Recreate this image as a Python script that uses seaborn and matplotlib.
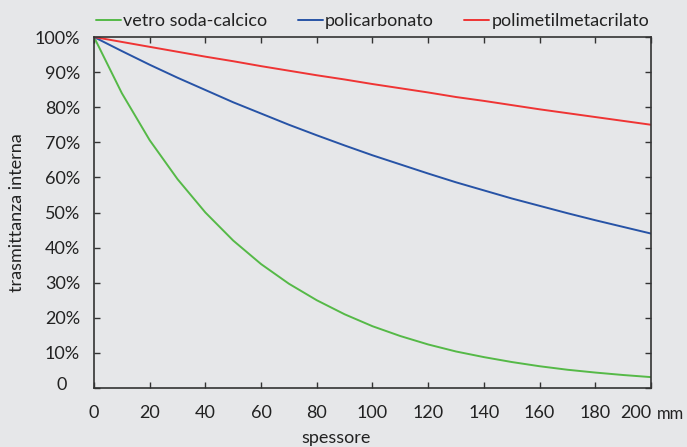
import numpy as np
import pandas as pd
import matplotlib
matplotlib.use('Agg')
import matplotlib.pyplot as plt
import matplotlib.transforms as mtransforms
import seaborn as sns

# spessore in mm
spessore = [0, 10, 20, 30, 40, 50, 60, 70, 80, 90, 100,
            110, 120, 130, 140, 150, 160, 170, 180, 190, 200]

# trasmittanza interna (%)
vetro = [100, 84, 70.6, 59.5, 50, 42, 35.3, 29.7, 25, 21, 17.6,
         14.8, 12.4, 10.4, 8.8, 7.4, 6.2, 5.2, 4.4, 3.7, 3.1]
policarbonato = [100, 96, 92.1, 88.4, 84.9, 81.4, 78.2, 75, 72, 69.1, 66.3,
                 63.7, 61.1, 58.6, 56.3, 54, 51.9, 49.8, 47.8, 45.9, 44]
pmma = [100, 98.6, 97.2, 95.8, 94.4, 93.1, 91.7, 90.4, 89.1, 87.9, 86.6,
        85.4, 84.2, 82.9, 81.8, 80.6, 79.4, 78.3, 77.2, 76.1, 75]

serie = ['vetro soda-calcico', 'policarbonato', 'polimetilmetacrilato']
colori = ['#55b947', '#2753a6', '#ef3434']

y_ticks = [0, 10, 20, 30, 40, 50, 60, 70, 80, 90, 100]
y_labels = ['0', '10%', '20%', '30%', '40%', '50%', '60%', '70%', '80%', '90%', '100%']
x_ticks = [0, 20, 40, 60, 80, 100, 120, 140, 160, 180, 200]

df = pd.DataFrame({
    'spessore': spessore * 3,
    'trasmittanza': vetro + policarbonato + pmma,
    'materiale': [serie[0]] * len(spessore) + [serie[1]] * len(spessore) + [serie[2]] * len(spessore),
})

sns.set_style('ticks')
plt.rcParams['font.family'] = ['Lato', 'DejaVu Sans']
bg = '#e6e7e9'
txt = '#222222'

fig = plt.figure(figsize=(6.87, 4.47), dpi=100, facecolor=bg)
ax = fig.add_axes([0.1368, 0.132, 0.8108, 0.7852])
ax.set_facecolor(bg)

sns.lineplot(data=df, x='spessore', y='trasmittanza', hue='materiale',
             hue_order=serie, palette=colori, linewidth=1.4, ax=ax)

ax.set_xlim(0, 200)
ax.set_ylim(0, 100)
ax.set_xticks(x_ticks)
ax.set_yticks(y_ticks)
ax.set_yticklabels(y_labels)
ax.tick_params(direction='in', length=4, width=1, color='#333333',
               top=True, right=True, labelsize=13, labelcolor=txt)
ax.tick_params(axis='x', pad=12)
ax.tick_params(axis='y', pad=10)
# last label pushed left to leave room for the unit
xlabs = ax.get_xticklabels()
xlabs[-1].set_horizontalalignment('right')
# "0" sits under the digits of the labels above, not under the %
ylabs = ax.get_yticklabels()
ylabs[0].set_transform(ylabs[0].get_transform() +
                       mtransforms.ScaledTranslation(-0.13, 0.04, fig.dpi_scale_trans))
for s in ax.spines.values():
    s.set_visible(True)
    s.set_color('#333333')
    s.set_linewidth(1.2)

ax.set_xlabel('')
ax.set_ylabel('trasmittanza interna', fontsize=13, color=txt)
ax.yaxis.set_label_coords(-0.124, 0.5)
ax.text(86.9, -14.3, 'spessore', fontsize=13, color=txt, ha='center', va='center',
        clip_on=False)
ax.text(202.2, -7.4, 'mm', fontsize=12, color=txt, ha='left', va='center',
        clip_on=False)

handles, labels = ax.get_legend_handles_labels()
ax.legend(handles, labels, loc='lower left', bbox_to_anchor=(-0.01, 1.002), ncol=3,
          frameon=False, fontsize=13, handlelength=1.4, handletextpad=0.1,
          columnspacing=1.7, borderaxespad=0, labelcolor=txt)

fig.savefig('out.png', dpi=100, facecolor=bg)
